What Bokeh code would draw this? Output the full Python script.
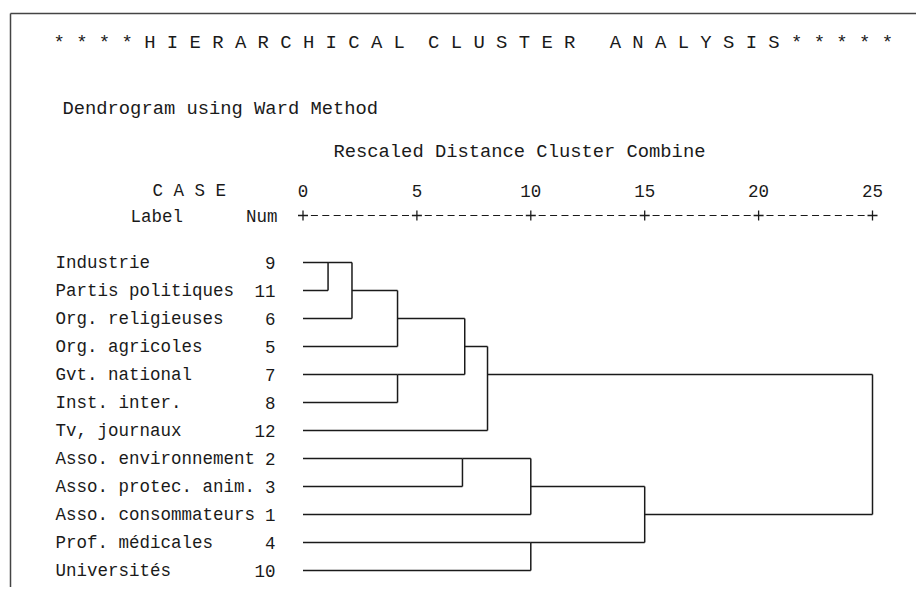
import math
from bokeh.plotting import figure
from bokeh.models import Range1d, ColumnDataSource
from bokeh.core.properties import value
from bokeh.embed import file_html
from bokeh.resources import INLINE

# ---------------- data ----------------
case_labels = ["Industrie", "Partis politiques", "Org. religieuses", "Org. agricoles",
               "Gvt. national", "Inst. inter.", "Tv, journaux", "Asso. environnement",
               "Asso. protec. anim.", "Asso. consommateurs", "Prof. médicales", "Universités"]
case_nums = [9, 11, 6, 5, 7, 8, 12, 2, 3, 1, 4, 10]
# agglomeration schedule: leaves are row indices 0..11, merge k creates node 12+k
merge_left = [0, 12, 4, 13, 7, 15, 17, 16, 10, 19, 18]
merge_right = [1, 2, 5, 3, 8, 14, 6, 9, 11, 20, 21]
merge_dist = [1.1, 2.15, 4.15, 4.15, 7.0, 7.1, 8.1, 10.0, 10.0, 15.0, 25.0]
scale_ticks = [0, 5, 10, 15, 20, 25]

title_parts = ["* * * * H I E R A R C H I C A L", "C L U S T E R", "A N A L Y S I S * * * * *"]
method_text = "Dendrogram using Ward Method"
scale_title = "Rescaled Distance Cluster Combine"

# ---------------- layout ----------------
W, H = 916, 587
PAGE = 0
PPU = (872.0 - 302.5) / 25.0          # pixels per distance unit
X_START = -(302.5 - PAGE) / PPU
X_END = X_START + W / PPU
ROW0, ROWH = 262.0, 28.0
Y_TOP = (PAGE - ROW0) / ROWH
Y_BOTTOM = Y_TOP + H / ROWH


def px(xpage):
    return X_START + (xpage - PAGE) / PPU


def py(ypage):
    return (ypage - ROW0) / ROWH


FONT = value("Liberation Mono")
INK = "#1a1a1a"

p = figure(width=W, height=H, x_range=Range1d(X_START, X_END),
           y_range=Range1d(Y_BOTTOM, Y_TOP), output_backend="svg",
           toolbar_location=None, min_border=0)
p.xaxis.visible = False
p.yaxis.visible = False
p.grid.visible = False
p.outline_line_color = None
p.background_fill_color = "white"
p.border_fill_color = "white"

# frame (top and left)
p.segment(x0=[px(10), px(10)], y0=[py(13), py(13)], x1=[X_END, px(10)],
          y1=[py(13), Y_BOTTOM], line_color="#444444", line_width=1.5)

# ---------------- dendrogram ----------------
n = len(case_labels)
node_x = {i: 0.0 for i in range(n)}
node_y = {i: float(i) for i in range(n)}
sx0, sy0, sx1, sy1 = [], [], [], []
for k, (a, b, d) in enumerate(zip(merge_left, merge_right, merge_dist)):
    for c in (a, b):
        sx0.append(node_x[c]); sy0.append(node_y[c]); sx1.append(d); sy1.append(node_y[c])
    sx0.append(d); sy0.append(node_y[a]); sx1.append(d); sy1.append(node_y[b])
    node_x[n + k] = d
    node_y[n + k] = float(math.floor((node_y[a] + node_y[b]) / 2))

p.segment(x0="x0", y0="y0", x1="x1", y1="y1",
          source=ColumnDataSource(dict(x0=sx0, y0=sy0, x1=sx1, y1=sy1)),
          line_color=INK, line_width=1.5)

rows = list(range(n))
p.text(x=[px(55)] * n, y=rows, text=case_labels, text_font=FONT,
       text_font_size=value("17.5px"), text_color=INK,
       text_align="left", text_baseline="middle")
p.text(x=[px(275)] * n, y=rows, text=[str(v) for v in case_nums], text_font=FONT,
       text_font_size=value("17.5px"), text_color=INK,
       text_align="right", text_baseline="middle")

# ---------------- header texts ----------------
PITCH = 11.35
title_x = [53, 53 + 33 * PITCH, 53 + 49 * PITCH]
p.text(x=[px(v) for v in title_x], y=[py(42)] * 3, text=title_parts, text_font=FONT,
       text_font_size=value("18.9px"), text_color=INK,
       text_align="left", text_baseline="middle")
p.text(x=[px(62)], y=[py(108)], text=[method_text], text_font=FONT,
       text_font_size=value("18.8px"), text_color=INK,
       text_align="left", text_baseline="middle")
p.text(x=[px(333)], y=[py(151)], text=[scale_title], text_font=FONT,
       text_font_size=value("18.8px"), text_color=INK,
       text_align="left", text_baseline="middle")
p.text(x=[px(152)], y=[py(190)], text=["C A S E"], text_font=FONT,
       text_font_size=value("17.5px"), text_color=INK,
       text_align="left", text_baseline="middle")
p.text(x=[px(130)], y=[py(216)], text=["Label"], text_font=FONT,
       text_font_size=value("17.5px"), text_color=INK,
       text_align="left", text_baseline="middle")
p.text(x=[px(277)], y=[py(216)], text=["Num"], text_font=FONT,
       text_font_size=value("17.5px"), text_color=INK,
       text_align="right", text_baseline="middle")

# ---------------- rescaled distance scale ----------------
p.text(x=scale_ticks, y=[py(190)] * len(scale_ticks),
       text=[str(t) for t in scale_ticks], text_font=FONT,
       text_font_size=value("17.5px"), text_color=INK,
       text_align="center", text_baseline="middle")
axis_y = py(215)
half = 3.5 / PPU
dx0, dx1 = [], []
for t0, t1 in zip(scale_ticks[:-1], scale_ticks[1:]):
    step = (t1 - t0) / 10.0
    for kk in range(1, 10):
        c = t0 + kk * step
        dx0.append(c - half); dx1.append(c + half)
p.segment(x0=dx0, y0=[axis_y] * len(dx0), x1=dx1, y1=[axis_y] * len(dx0),
          line_color=INK, line_width=1.2)
p.scatter(x=scale_ticks, y=[axis_y] * len(scale_ticks), marker="cross",
          size=10, line_color=INK, line_width=1.3)

open("out.html", "w").write(file_html(p, INLINE))
